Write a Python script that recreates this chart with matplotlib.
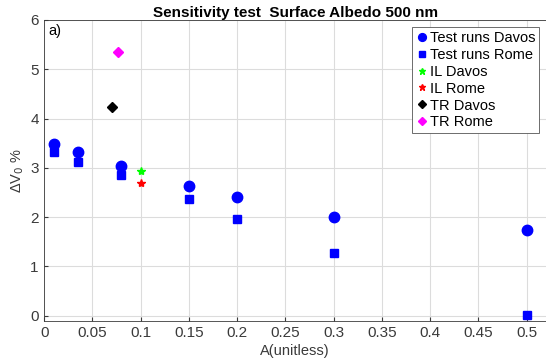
import matplotlib.pyplot as plt

plt.rcParams['font.family'] = ['Liberation Sans', 'DejaVu Sans']

# albedo values and dV0 (%)
albedo = [0.01, 0.035, 0.08, 0.15, 0.2, 0.3, 0.5]
davos = [3.48, 3.33, 3.03, 2.63, 2.40, 2.00, 1.74]
rome = [3.33, 3.11, 2.85, 2.37, 1.97, 1.27, 0.01]

il_x = [0.1]
il_davos = [2.93]
il_rome = [2.70]

tr_davos_x = [0.07]
tr_davos = [4.24]
tr_rome_x = [0.076]
tr_rome = [5.34]

xticks = [0, 0.05, 0.1, 0.15, 0.2, 0.25, 0.3, 0.35, 0.4, 0.45, 0.5]
xticklabels = ['0', '0.05', '0.1', '0.15', '0.2', '0.25', '0.3', '0.35', '0.4', '0.45', '0.5']

fig = plt.figure(figsize=(5.46, 3.62), dpi=100)
ax = fig.add_axes([0.081, 0.114, 0.919, 0.831])

ax.plot(albedo, davos, 'o', color='#0000ff', ms=7.5, label='Test runs Davos')
ax.plot(albedo, rome, 's', color='#0000ff', ms=5.5, label='Test runs Rome')
ax.plot(il_x, il_davos, '*', color='#00ff00', ms=6, label='IL Davos')
ax.plot(il_x, il_rome, '*', color='#ff0000', ms=6, label='IL Rome')
ax.plot(tr_davos_x, tr_davos, 'D', color='black', ms=5.5, label='TR Davos')
ax.plot(tr_rome_x, tr_rome, 'D', color='#ff00ff', ms=5.5, label='TR Rome')

ax.set_xlim(0, 0.52)
ax.set_ylim(-0.1, 6)
ax.set_xticks(xticks)
ax.set_xticklabels(xticklabels)
ax.set_yticks(range(7))
ax.tick_params(direction='in', labelsize=11, labelcolor='#3a3a3a', colors='#3a3a3a', length=3, pad=4)
ax.grid(True, color='#dcdcdc', linewidth=0.8)
ax.set_axisbelow(True)
for s in ax.spines.values():
    s.set_color('#3a3a3a')
    s.set_linewidth(0.6)

ax.set_xlabel('A(unitless)', fontsize=10.5, color='#3a3a3a', labelpad=3)
ax.set_ylabel('ΔV$_0$ %', fontsize=10.5, color='#3a3a3a', labelpad=3)
ax.set_title('Sensitivity test  Surface Albedo 500 nm', fontsize=11, fontweight='bold', pad=1.5)
ax.text(0.004, 5.92, 'a)', fontsize=10.5, va='top', ha='left')

leg = ax.legend(loc='upper right', fontsize=10.5, handletextpad=0.05, handlelength=0.9,
                markerscale=0.75, borderpad=0.25, labelspacing=0.2, fancybox=False,
                framealpha=1, edgecolor='#555555', borderaxespad=0.5)
leg.get_frame().set_linewidth(0.6)

fig.savefig('out.png', dpi=100)
